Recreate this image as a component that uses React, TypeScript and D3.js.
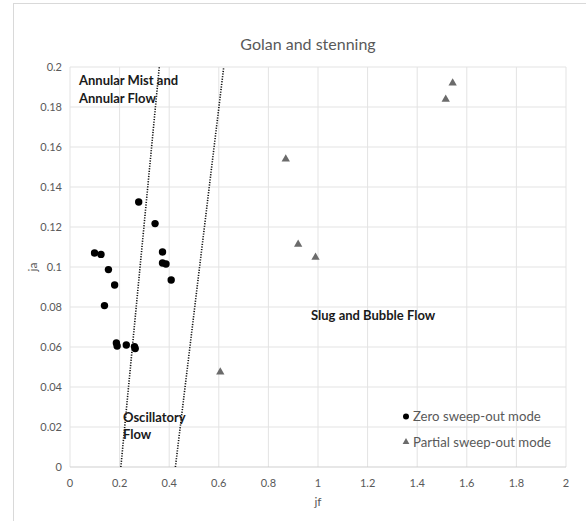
import React from "react";
import * as d3 from "d3";

const zeroX = [0.099, 0.125, 0.139, 0.155, 0.18, 0.187, 0.19, 0.227, 0.26, 0.263, 0.277, 0.343, 0.373, 0.373, 0.387, 0.408];
const zeroY = [0.107, 0.1063, 0.0807, 0.0987, 0.091, 0.062, 0.0605, 0.061, 0.0602, 0.0592, 0.1325, 0.1217, 0.1075, 0.102, 0.1015, 0.0935];
const partialX = [0.606, 0.87, 0.92, 0.99, 1.515, 1.543];
const partialY = [0.0475, 0.154, 0.1113, 0.1048, 0.1838, 0.192];
const boundary1 = [[0.205, 0], [0.36, 0.2]];
const boundary2 = [[0.425, 0], [0.62, 0.2]];
const xTicks = [0, 0.2, 0.4, 0.6, 0.8, 1, 1.2, 1.4, 1.6, 1.8, 2];
const yTicks = [0, 0.02, 0.04, 0.06, 0.08, 0.1, 0.12, 0.14, 0.16, 0.18, 0.2];
const title = "Golan and stenning";
const xTitle = "jf";
const yTitle = "ja";
const legendLabels = ["Zero sweep-out mode", "Partial sweep-out mode"];

const W = 586, H = 521;
const FONT = "Lato, 'Open Sans', sans-serif";
const GRAY = "#595959";

export default function App() {
  const x = d3.scaleLinear().domain([0, 2]).range([70, 566]);
  const y = d3.scaleLinear().domain([0, 0.2]).range([467, 67]);
  const line = d3.line<number[]>().x((d) => x(d[0])).y((d) => y(d[1]));
  const tri = d3.symbol().type(d3.symbolTriangle).size(30)() as string;
  const fmt = (v: number) => String(+v.toFixed(2));

  return (
    <svg width={W} height={H} style={{ position: "absolute", left: 0, top: 0, background: "#fff" }} fontFamily={FONT}>
      <rect x={13.5} y={3.5} width={W + 20} height={H + 20} fill="#fff" stroke="#d9d9d9" />
      <text x={308} y={50} textAnchor="middle" fontSize={16} fill={GRAY}>{title}</text>
      {xTicks.map((t) => (
        <line key={"gx" + t} x1={x(t)} x2={x(t)} y1={y(0)} y2={y(0.2)} stroke="#e3e3e3" />
      ))}
      {yTicks.map((t) => (
        <line key={"gy" + t} x1={x(0)} x2={x(2)} y1={y(t)} y2={y(t)} stroke={t === 0 ? "#cfcfcf" : "#e3e3e3"} />
      ))}
      {xTicks.map((t) => (
        <text key={"tx" + t} x={x(t)} y={487} textAnchor="middle" fontSize={11} fill={GRAY}>{fmt(t)}</text>
      ))}
      {yTicks.map((t) => (
        <text key={"ty" + t} x={62} y={y(t) + 4} textAnchor="end" fontSize={11} fill={GRAY}>{fmt(t)}</text>
      ))}
      <text x={318} y={506} textAnchor="middle" fontSize={12} fill={GRAY}>{xTitle}</text>
      <text transform={`translate(37,${y(0.1)}) rotate(-90)`} textAnchor="middle" fontSize={12} fill={GRAY}>{yTitle}</text>
      <path d={line(boundary1) || ""} fill="none" stroke="#111" strokeWidth={1.6} strokeDasharray="1.2 1.4" />
      <path d={line(boundary2) || ""} fill="none" stroke="#111" strokeWidth={1.6} strokeDasharray="1.2 1.4" />
      {zeroX.map((v, i) => (
        <circle key={"z" + i} cx={x(v)} cy={y(zeroY[i])} r={3.7} fill="#000" />
      ))}
      {partialX.map((v, i) => (
        <path key={"p" + i} d={tri} transform={`translate(${x(v)},${y(partialY[i])})`} fill="#6b6b6b" />
      ))}
      <g fontSize={13} fontWeight="bold" fill="#1a1a1a">
        <text x={79} y={85}>Annular Mist and</text>
        <text x={79} y={103}>Annular Flow</text>
        <text x={311} y={320}>Slug and Bubble Flow</text>
        <text x={123} y={422}>Oscillatory</text>
        <text x={123} y={439}>Flow</text>
      </g>
      <circle cx={406} cy={416.5} r={3} fill="#000" />
      <text x={413} y={421} fontSize={13.2} fill={GRAY}>{legendLabels[0]}</text>
      <path d={d3.symbol().type(d3.symbolTriangle).size(20)() as string} transform="translate(406,442)" fill="#6b6b6b" />
      <text x={413} y={447} fontSize={13.2} fill={GRAY}>{legendLabels[1]}</text>
    </svg>
  );
}
